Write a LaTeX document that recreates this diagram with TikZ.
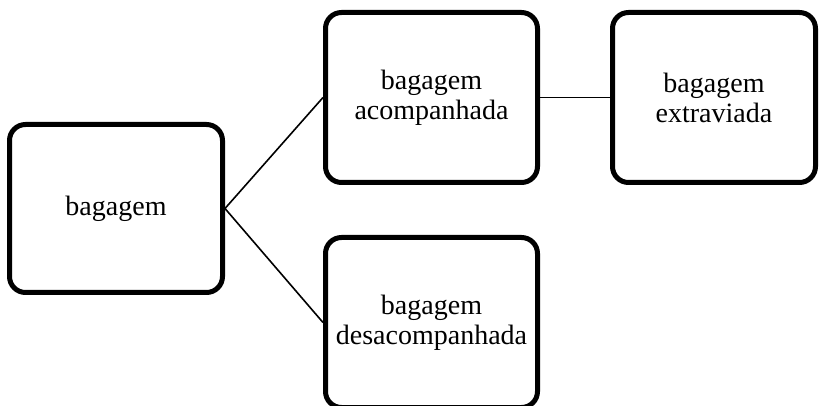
\documentclass[tikz,border=0pt]{standalone}
\usepackage{fontspec}
\setmainfont{Liberation Serif}
\usepackage{tikz}

\tikzset{
  termbox/.style={draw=black, line width=5pt, rounded corners=16pt, fill=white,
    inner sep=0pt, align=center, font=\fontsize{28}{30}\selectfont},
  link/.style={draw=black, line width=1.6pt}
}

\begin{document}
\begin{tikzpicture}[x=1pt, y=-1pt]
        \useasboundingbox (0,0) rectangle (820,406);
        \node[termbox, minimum width=213pt, minimum height=168pt] (bagagem) at (116,208.5) {bagagem};
        \node[termbox, minimum width=212pt, minimum height=170pt] (acomp) at (431.5,97.5) {bagagem\\acompanhada};
        \node[termbox, minimum width=203pt, minimum height=170pt] (extrav) at (714,97.5) {bagagem\\extraviada};
        \node[termbox, minimum width=212pt, minimum height=170pt] (desacomp) at (431.5,322.5) {bagagem\\desacompanhada};
        \draw[link] (bagagem.east) -- (acomp.west);
        \draw[link] (bagagem.east) -- (desacomp.west);
        \draw[link] (acomp.east) -- (extrav.west);
      \end{tikzpicture}
\end{document}
